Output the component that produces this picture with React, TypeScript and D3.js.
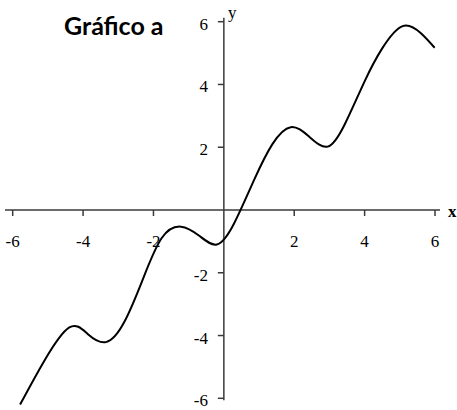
import React from "react";
import * as d3 from "d3";

// curve, in data units
const xs = [-5.79, -5.1, -4.39, -3.87, -3.35, -2.83, -2.3, -1.77, -1.22, -0.7, -0.2, 0.29, 0.86, 1.38, 1.9, 2.42, 2.95, 3.44, 4.0, 4.5, 5.08, 5.6, 5.99];
const ys = [-6.2, -4.8, -3.74, -3.95, -4.21, -3.57, -2.2, -0.9, -0.53, -0.82, -1.1, -0.43, 0.96, 2.1, 2.64, 2.34, 2.02, 2.74, 4.1, 5.15, 5.86, 5.63, 5.17];

const xTicks = [-6, -4, -2, 2, 4, 6];
const yTicks = [-6, -4, -2, 2, 4, 6];

const title = "Gráfico a";

export default function App() {
  const width = 457;
  const height = 410;

  const x = d3.scaleLinear().domain([-6, 6]).range([12.7, 435]);
  const y = d3.scaleLinear().domain([-6, 6]).range([398.3, 21.7]);

  const pts: [number, number][] = xs.map((d, i) => [d, ys[i]]);
  const line = d3
    .line<[number, number]>()
    .x(d => x(d[0]))
    .y(d => y(d[1]))
    .curve(d3.curveNatural);

  const x0 = x(0);
  const y0 = y(0);
  const axisColor = "#3a3a3a";
  const serif = "'Liberation Serif', 'Times New Roman', serif";

  return (
    <svg width={width} height={height} style={{ position: "absolute", left: 0, top: 0, background: "#fff" }}>
      {/* x axis */}
      <line x1={5} x2={440} y1={y0} y2={y0} stroke={axisColor} strokeWidth={1.5} />
      {xTicks.map(t => (
        <g key={"x" + t}>
          <line x1={x(t)} x2={x(t)} y1={y0} y2={y0 + 6} stroke={axisColor} strokeWidth={1.5} />
          <text x={x(t)} y={247} textAnchor="middle" fontFamily={serif} fontSize={17}>
            {t}
          </text>
        </g>
      ))}
      <text x={448} y={217} fontFamily={serif} fontWeight="bold" fontSize={17}>x</text>

      {/* y axis */}
      <line x1={x0} x2={x0} y1={y(6) - 4} y2={y(-6) + 2} stroke={axisColor} strokeWidth={1.5} />
      {yTicks.map(t => (
        <g key={"y" + t}>
          <line x1={x0 - 6} x2={x0} y1={y(t)} y2={y(t)} stroke={axisColor} strokeWidth={1.5} />
          <text x={208} y={y(t) + 8} textAnchor="end" fontFamily={serif} fontSize={17}>
            {t}
          </text>
        </g>
      ))}
      <text x={228} y={18} fontFamily={serif} fontSize={17}>y</text>

      <text x={64} y={35} fontFamily="Lato" fontWeight="bold" fontSize={25}>{title}</text>

      <path d={line(pts) ?? ""} fill="none" stroke="#000" strokeWidth={2} />
    </svg>
  );
}
